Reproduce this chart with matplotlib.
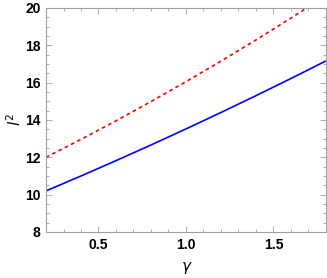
import matplotlib
matplotlib.use("Agg")
import matplotlib.pyplot as plt
from matplotlib.ticker import MultipleLocator

gamma = [0.2, 0.4, 0.6, 0.8, 1.0, 1.2, 1.4, 1.6, 1.8]
l2_blue = [10.2, 11.0, 11.82, 12.66, 13.52, 14.40, 15.30, 16.22, 17.16]
l2_red = [12.0, 12.96, 13.955, 14.985, 16.05, 17.15, 18.285, 19.455, 20.66]
xticks = [0.5, 1.0, 1.5]
yticks = [8, 10, 12, 14, 16, 18, 20]

fig = plt.figure(figsize=(3.27, 2.78), dpi=100)
ax = fig.add_axes([0.1407, 0.1655, 0.856, 0.806])

ax.plot(gamma, l2_blue, color=(0, 0, 1), lw=1.2, solid_capstyle="butt")
ax.plot(gamma, l2_red, color=(1, 0, 0), lw=1.2, linestyle=(0, (2.2, 2.0)))

ax.set_xlim(0.2, 1.8)
ax.set_ylim(8, 20)
tf = dict(family="Liberation Sans", weight="bold", size=10)
ax.set_xticks(xticks)
ax.set_yticks(yticks)
ax.set_xticklabels(["%.1f" % v for v in xticks], fontdict=tf)
ax.set_yticklabels([str(v) for v in yticks], fontdict=tf)
ax.xaxis.set_minor_locator(MultipleLocator(0.1))
ax.yaxis.set_minor_locator(MultipleLocator(0.5))

fc = "#a0a0a0"
for s in ax.spines.values():
    s.set_color(fc)
    s.set_linewidth(0.8)
ax.tick_params(which="both", direction="in", top=True, right=True, color=fc, width=0.6)
ax.tick_params(which="major", length=4, pad=4)
ax.tick_params(which="minor", length=2)

ax.set_xlabel(r"$\gamma$", fontsize=11, va="center")
ax.set_ylabel(r"$l^2$", fontsize=11, va="center")
ax.xaxis.set_label_coords(0.504, -0.16)
ax.yaxis.set_label_coords(-0.112, 0.5)

fig.savefig("out.png", dpi=100)
